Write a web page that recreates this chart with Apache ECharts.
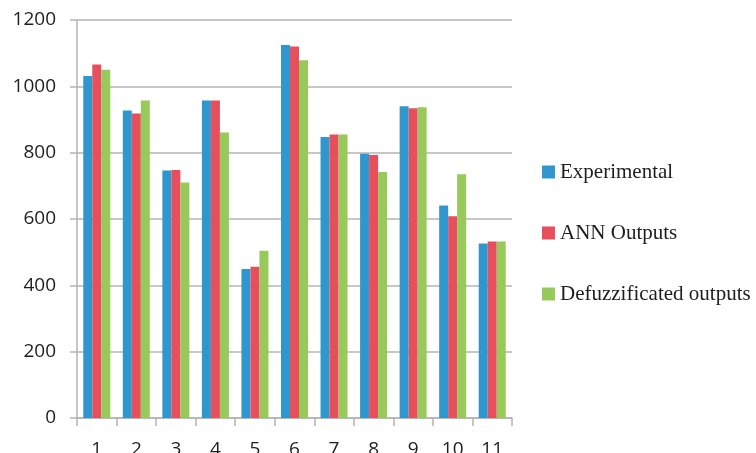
<!DOCTYPE html>
<html>
<head>
<meta charset="utf-8">
<script src="https://cdn.jsdelivr.net/npm/echarts@6/dist/echarts.min.js"></script>
<style>
  html, body { margin: 0; padding: 0; background: #fff; }
  #chart { width: 756px; height: 453px; }
</style>
</head>
<body>
<div id="chart"></div>
<script>
// Sample numbers shown along the x axis
const categories = ['1', '2', '3', '4', '5', '6', '7', '8', '9', '10', '11'];

// Measured values and the two model predictions
const experimental = [1031, 927, 746, 957, 449, 1125, 847, 797, 940, 641, 526];
const annOutputs = [1066, 918, 748, 957, 456, 1120, 855, 793, 934, 608, 532];
const defuzzOutputs = [1050, 957, 710, 861, 504, 1079, 855, 742, 937, 735, 532];

const seriesNames = ['Experimental', 'ANN Outputs', 'Defuzzificated outputs'];
const seriesColors = ['#2f97cd', '#e84f5d', '#97c95b'];
const seriesData = [experimental, annOutputs, defuzzOutputs];

const chart = echarts.init(document.getElementById('chart'));

const axisGrey = '#b4b4b4';
const labelFont = { fontFamily: 'Open Sans', fontSize: 19, color: '#1e1e1e' };

chart.setOption({
  animation: false,
  backgroundColor: '#ffffff',
  grid: {
    left: 77, right: 244, top: 20, bottom: 35,
    containLabel: false,
    outerBoundsMode: 'none'
  },
  legend: {
    orient: 'vertical',
    left: 537,
    top: 156,
    itemWidth: 13,
    itemHeight: 13,
    itemGap: 39,
    icon: 'rect',
    data: seriesNames,
    textStyle: { fontFamily: 'Liberation Serif', fontSize: 21, color: '#1e1e1e', lineHeight: 22 }
  },
  xAxis: {
    type: 'category',
    data: categories,
    axisLine: { lineStyle: { color: axisGrey, width: 1.5 } },
    axisTick: { show: true, alignWithLabel: false, length: 8, lineStyle: { color: axisGrey, width: 1.5 } },
    axisLabel: Object.assign({ margin: 22 }, labelFont),
    splitLine: { show: false }
  },
  yAxis: {
    type: 'value',
    min: 0,
    max: 1200,
    interval: 200,
    axisLine: { show: true, lineStyle: { color: axisGrey, width: 1.5 } },
    axisTick: { show: true, length: 7, lineStyle: { color: axisGrey, width: 1.5 } },
    axisLabel: Object.assign({ margin: 21, formatter: v => String(v) }, labelFont),
    splitLine: { show: true, lineStyle: { color: axisGrey, width: 1.5 } }
  },
  series: seriesNames.map((name, i) => ({
    name: name,
    type: 'bar',
    data: seriesData[i],
    barWidth: 9,
    barGap: '0%',
    itemStyle: { color: seriesColors[i] }
  }))
});
</script>
</body>
</html>
